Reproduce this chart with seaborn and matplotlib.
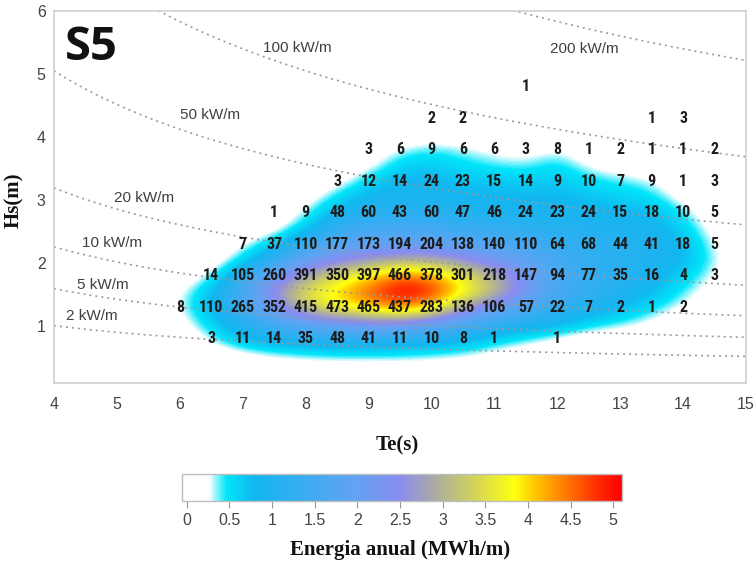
import numpy as np
import pandas as pd
import matplotlib
matplotlib.use("Agg")
import matplotlib.pyplot as plt
from matplotlib import font_manager
from matplotlib.colors import LinearSegmentedColormap, Normalize
from matplotlib.ticker import FuncFormatter
import seaborn as sns

# ---------------- data ----------------
te_bins = [6.0, 6.5, 7.0, 7.5, 8.0, 8.5, 9.0, 9.5, 10.0, 10.5, 11.0, 11.5, 12.0, 12.5, 13.0, 13.5, 14.0, 14.5]
hs_rows = [0.8, 1.3, 1.8, 2.3, 2.8, 3.3, 3.8, 4.3, 4.8]
# occurrence counts (0 = empty cell)
counts = [
    [0, 3, 11, 14, 35, 48, 41, 11, 10, 8, 1, 0, 1, 0, 0, 0, 0, 0],
    [8, 110, 265, 352, 415, 473, 465, 437, 283, 136, 106, 57, 22, 7, 2, 1, 2, 0],
    [0, 14, 105, 260, 391, 350, 397, 466, 378, 301, 218, 147, 94, 77, 35, 16, 4, 3],
    [0, 0, 7, 37, 110, 177, 173, 194, 204, 138, 140, 110, 64, 68, 44, 41, 18, 5],
    [0, 0, 0, 1, 9, 48, 60, 43, 60, 47, 46, 24, 23, 24, 15, 18, 10, 5],
    [0, 0, 0, 0, 0, 3, 12, 14, 24, 23, 15, 14, 9, 10, 7, 9, 1, 3],
    [0, 0, 0, 0, 0, 0, 3, 6, 9, 6, 6, 3, 8, 1, 2, 1, 1, 2],
    [0, 0, 0, 0, 0, 0, 0, 0, 2, 2, 0, 0, 0, 0, 0, 1, 3, 0],
    [0, 0, 0, 0, 0, 0, 0, 0, 0, 0, 0, 1, 0, 0, 0, 0, 0, 0],
]

# annual energy field (MWh/m)
energy_te = [5.5, 6.0, 6.5, 7.0, 7.5, 8.0, 8.5, 9.0, 9.5, 10.0, 10.5, 11.0, 11.5, 12.0, 12.5, 13.0, 13.5, 14.0, 14.5, 15.0]
energy_hs = [0.30, 0.55, 0.80, 1.05, 1.30, 1.55, 1.80, 2.05, 2.30, 2.55, 2.80, 3.05, 3.30, 3.55, 3.80, 4.05, 4.30, 4.55]
energy = [
    [0, 0, 0, 0, 0, 0, 0, 0, 0, 0, 0, 0, 0, 0, 0, 0, 0, 0, 0, 0],
    [0, 0, 0, 0.15, 0.3, 0.4, 0.45, 0.45, 0.45, 0.4, 0.3, 0.15, 0.05, 0, 0, 0, 0, 0, 0, 0],
    [0, 0, 0.3, 0.8, 1.0, 1.1, 1.2, 1.2, 1.1, 1.0, 0.9, 0.6, 0.4, 0.2, 0, 0, 0, 0, 0, 0],
    [0, 0.1, 0.6, 1.1, 1.5, 1.9, 2.2, 2.4, 2.4, 2.1, 1.6, 1.3, 1.1, 0.9, 0.6, 0.4, 0.2, 0, 0, 0],
    [0, 0.25, 0.8, 1.5, 2.3, 3.3, 3.8, 4.1, 4.5, 4.0, 2.9, 2.1, 1.6, 1.2, 1.0, 0.8, 0.5, 0.2, 0, 0],
    [0, 0.2, 0.7, 1.6, 2.6, 3.6, 4.0, 4.6, 5.2, 4.9, 3.9, 3.2, 2.3, 1.6, 1.3, 1.0, 0.8, 0.4, 0.1, 0],
    [0, 0, 0.3, 1.2, 2.1, 2.8, 3.5, 3.9, 4.5, 4.3, 3.6, 2.9, 2.2, 1.5, 1.3, 1.1, 0.9, 0.6, 0.2, 0],
    [0, 0, 0, 0.5, 1.3, 2.0, 2.4, 2.7, 2.9, 2.9, 2.6, 2.2, 1.9, 1.5, 1.3, 1.1, 1.0, 0.8, 0.3, 0],
    [0, 0, 0, 0.2, 0.6, 1.4, 1.8, 1.9, 2.0, 2.0, 1.8, 1.7, 1.5, 1.3, 1.2, 1.1, 1.0, 0.8, 0.2, 0],
    [0, 0, 0, 0, 0.1, 0.6, 1.3, 1.5, 1.5, 1.5, 1.3, 1.3, 1.2, 1.1, 1.0, 1.0, 0.9, 0.6, 0.1, 0],
    [0, 0, 0, 0, 0, 0.3, 0.9, 1.1, 1.1, 1.1, 1.0, 1.0, 0.9, 0.9, 0.9, 0.8, 0.8, 0.4, 0, 0],
    [0, 0, 0, 0, 0, 0.05, 0.5, 0.9, 0.9, 0.9, 0.8, 0.8, 0.8, 0.8, 0.7, 0.6, 0.5, 0.1, 0, 0],
    [0, 0, 0, 0, 0, 0, 0.1, 0.55, 0.85, 0.85, 0.7, 0.7, 0.6, 0.7, 0.5, 0.4, 0.3, 0, 0, 0],
    [0, 0, 0, 0, 0, 0, 0, 0.15, 0.6, 0.65, 0.5, 0.4, 0.35, 0.55, 0.2, 0.1, 0, 0, 0, 0],
    [0, 0, 0, 0, 0, 0, 0, 0, 0.3, 0.42, 0.32, 0.2, 0.1, 0.28, 0, 0, 0, 0, 0, 0],
    [0, 0, 0, 0, 0, 0, 0, 0, 0, 0.05, 0, 0, 0, 0, 0, 0, 0, 0.45, 0, 0],
    [0, 0, 0, 0, 0, 0, 0, 0, 0, 0, 0, 0, 0, 0, 0, 0, 0, 0, 0, 0],
    [0, 0, 0, 0, 0, 0, 0, 0, 0, 0, 0, 0, 0, 0, 0, 0, 0, 0, 0, 0],
]

# iso-power lines (kW/m) and their label positions (Te, Hs)
power_levels = [2, 5, 10, 20, 50, 100, 200]
power_labels = ["2 kW/m", "5 kW/m", "10 kW/m", "20 kW/m", "50 kW/m", "100 kW/m", "200 kW/m"]
label_te = [4.6, 4.78, 4.92, 5.43, 6.48, 7.86, 12.43]
label_hs = [1.16, 1.65, 2.32, 3.03, 4.35, 5.41, 5.40]

cbar_ticks = [0, 0.5, 1, 1.5, 2, 2.5, 3, 3.5, 4, 4.5, 5]

# ---------------- style ----------------
sns.set_theme(style="white")
plt.rcParams["font.family"] = ["Liberation Sans", "DejaVu Sans"]

# pick a condensed face for the cell numbers, if one is installed
num_font = {"family": ["Roboto", "DejaVu Sans"], "size": 10.5, "stretch": "normal"}
names = {f.name for f in font_manager.fontManager.ttflist}
for cand in ["Liberation Sans Narrow", "Arial Narrow", "Roboto Condensed",
             "DejaVu Sans Condensed", "Open Sans Condensed", "Noto Sans Condensed"]:
    if cand in names:
        num_font = {"family": [cand, "DejaVu Sans"], "size": 11.5, "stretch": "normal"}
        break
else:
    cond = [f for f in font_manager.fontManager.ttflist
            if f.name in ("DejaVu Sans", "Noto Sans", "Open Sans", "Roboto")
            and str(f.stretch) in ("condensed", "semi-condensed", "75", "87.5", "extra-condensed")]
    if cond:
        num_font = {"family": [cond[0].name, "DejaVu Sans"], "size": 11, "stretch": cond[0].stretch}

W, H = 756, 566
fig = plt.figure(figsize=(W / 100, H / 100), dpi=100)
ax = fig.add_axes([54 / W, 1 - 383 / H, 692 / W, 372 / H])

cmap = LinearSegmentedColormap.from_list(
    "energy",
    [
        (0.00, "#ffffff"),
        ((0.25 + 0.06) / 5.16, "#ffffff"),
        ((0.45 + 0.06) / 5.16, "#00e6fa"),
        ((0.80 + 0.06) / 5.16, "#12b6f0"),
        ((1.50 + 0.06) / 5.16, "#44aaf2"),
        ((2.00 + 0.06) / 5.16, "#64a2f2"),
        ((2.50 + 0.06) / 5.16, "#8a8cf0"),
        ((2.90 + 0.06) / 5.16, "#aaaaa6"),
        ((3.30 + 0.06) / 5.16, "#cccc66"),
        ((3.85 + 0.06) / 5.16, "#ffff10"),
        ((4.10 + 0.06) / 5.16, "#ffc400"),
        ((4.45 + 0.06) / 5.16, "#ff7a00"),
        ((4.80 + 0.06) / 5.16, "#ff3000"),
        (1.00, "#ff0000"),
    ],
)
cmap.set_under("#ffffff")
norm = Normalize(vmin=-0.06, vmax=5.1)

E = np.array(energy, dtype=float)
dte = energy_te[1] - energy_te[0]
dhs = energy_hs[1] - energy_hs[0]
im = ax.imshow(
    E, origin="lower", cmap=cmap, norm=norm, aspect="auto",
    interpolation="bicubic", interpolation_stage="data",
    extent=(energy_te[0] - dte / 2, energy_te[-1] + dte / 2,
            energy_hs[0] - dhs / 2, energy_hs[-1] + dhs / 2),
    zorder=1,
)

# iso-power curves, P = 0.49 Hs^2 Te
te_line = np.linspace(4, 15, 200)
frames = []
for p in power_levels:
    frames.append(pd.DataFrame({"Te": te_line, "Hs": np.sqrt(p / (0.49 * te_line)), "level": p}))
lines_df = pd.concat(frames, ignore_index=True)
sns.lineplot(data=lines_df, x="Te", y="Hs", units="level", estimator=None,
             color="#9a9a9a", linewidth=1.2, linestyle=(0, (1.2, 2.4)),
             ax=ax, legend=False, zorder=2)
for lab, tx, ty in zip(power_labels, label_te, label_hs):
    ax.text(tx, ty, lab, ha="center", va="center", fontsize=11, color="#404040", zorder=3)

# counts
for hs, row in zip(hs_rows, counts):
    for te, c in zip(te_bins, row):
        if c:
            ax.text(te, hs, str(c), ha="center", va="center", fontsize=num_font["size"],
                    fontweight="bold", family=num_font["family"],
                    fontstretch=num_font["stretch"], color="#1c1c1c", zorder=4)

ax.text(4.17, 5.42, "S5", ha="left", va="center", fontsize=34, fontweight="bold",
        family=["Open Sans", "DejaVu Sans"], color="#111111", zorder=4)

ax.set_xlim(4, 15)
ax.set_ylim(0.1, 6)
ax.set_xticks(range(4, 16))
ax.set_yticks(range(1, 7))
ax.tick_params(axis="both", which="major", direction="out", length=4, width=0.8,
               color="#9a9a9a", labelcolor="#444444", labelsize=11.5, pad=3)
ax.tick_params(axis="x", pad=6)
ax.tick_params(axis="y", pad=2)
for s in ax.spines.values():
    s.set_color("#cfcfcf")
    s.set_linewidth(1.2)
ax.set_xlabel("")
ax.set_ylabel("")

serif = ["Liberation Serif", "DejaVu Serif"]
fig.text(397 / W, 1 - 445 / H, "Te(s)", ha="center", va="center", fontsize=15,
         fontweight="bold", family=serif, color="#111111")
fig.text(14 / W, 1 - 200 / H, "Hs(m)", ha="center", va="center", rotation=90,
         fontsize=15, fontweight="bold", family=serif, color="#111111")

# colour bar
cax = fig.add_axes([181.7 / W, 1 - 500.7 / H, 440 / W, 26.7 / H])
cb = fig.colorbar(im, cax=cax, orientation="horizontal", ticks=cbar_ticks)
cb.outline.set_edgecolor("#bdbdbd")
cb.outline.set_linewidth(1.0)
cax.xaxis.set_major_formatter(FuncFormatter(lambda v, p: f"{v:g}"))
cax.tick_params(axis="x", direction="out", length=5, width=0.8, color="#9a9a9a",
                labelcolor="#444444", labelsize=11.5, pad=4)
fig.text(400 / W, 1 - 550 / H, "Energia anual (MWh/m)", ha="center", va="center",
         fontsize=15, fontweight="bold", family=serif, color="#111111")

fig.savefig("out.png", dpi=100)
